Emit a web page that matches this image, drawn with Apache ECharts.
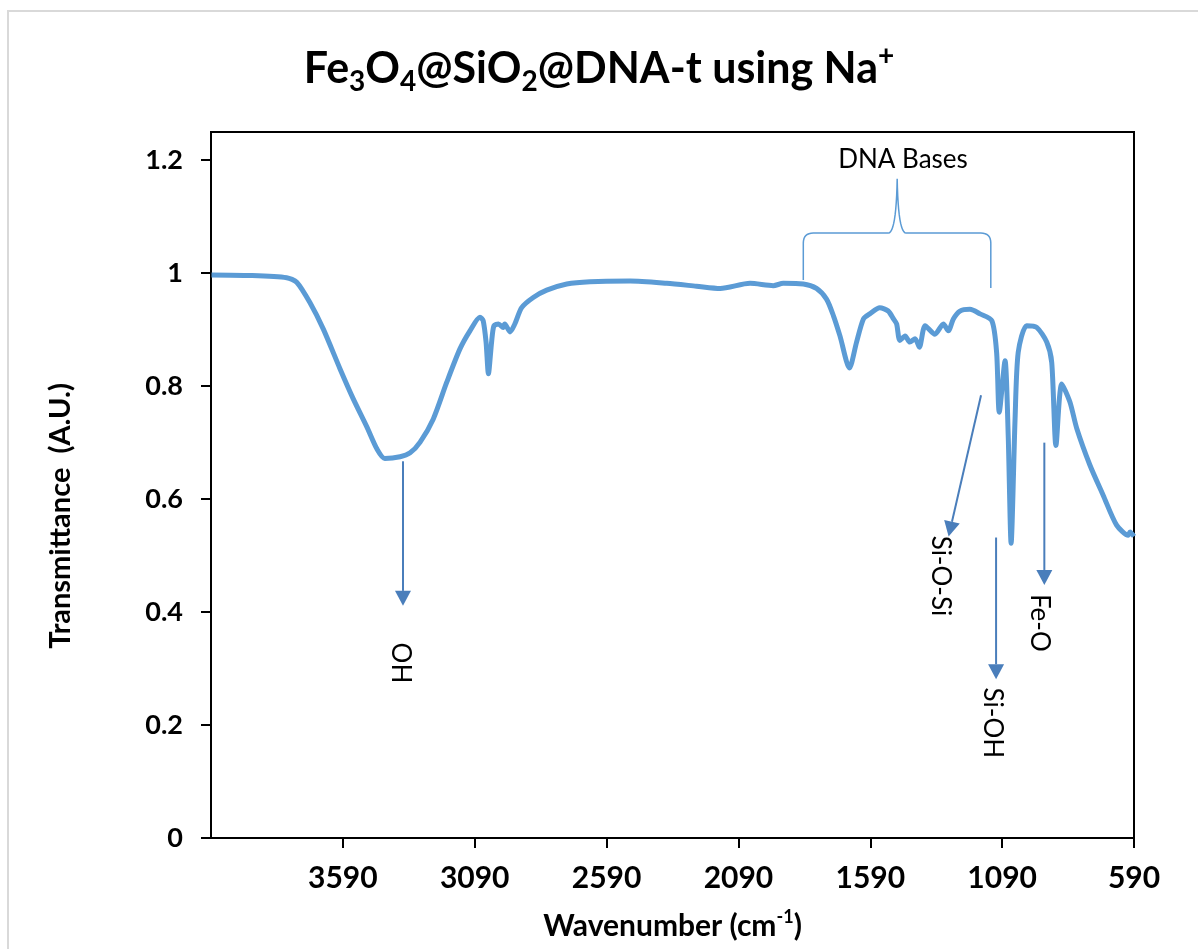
<!DOCTYPE html>
<html>
<head>
<meta charset="utf-8">
<script src="https://cdn.jsdelivr.net/npm/echarts@6/dist/echarts.min.js"></script>
<style>
html,body{margin:0;padding:0;background:#fff;}
#chart{width:1198px;height:949px;}
</style>
</head>
<body>
<div id="chart"></div>
<script>
// Wavenumber (cm-1) and transmittance values
const wavenumber = [4088,3942,3803,3765,3715,3664,3601,3551,3499,3461,3431,3373,3335,3297,3247,3196,3146,3108,3070,3058,3047,3038,3026,3017,3000,2982,2976,2956,2938,2912,2868,2817,2741,2653,2501,2362,2249,2159,2046,1958,1920,1844,1794,1756,1730,1705,1669,1642,1616,1592,1554,1522,1502,1490,1478,1458,1440,1420,1404,1382,1345,1313,1294,1275,1250,1212,1174,1129,1111,1101,1079,1067,1056,1041,1029,997,959,921,902,886,864,833,807,757,707,656,612,605,590];
const transmittance = [0.997,0.996,0.992,0.984,0.948,0.901,0.831,0.778,0.728,0.689,0.672,0.675,0.682,0.701,0.742,0.807,0.866,0.898,0.922,0.916,0.878,0.822,0.878,0.907,0.910,0.904,0.910,0.896,0.910,0.939,0.957,0.970,0.981,0.985,0.986,0.982,0.977,0.973,0.982,0.978,0.982,0.981,0.973,0.954,0.925,0.889,0.832,0.878,0.919,0.928,0.939,0.933,0.919,0.910,0.881,0.889,0.878,0.884,0.869,0.907,0.892,0.910,0.898,0.919,0.933,0.936,0.928,0.916,0.860,0.754,0.845,0.713,0.522,0.742,0.860,0.907,0.904,0.878,0.842,0.695,0.804,0.772,0.725,0.660,0.607,0.554,0.536,0.542,0.534];

// Annotation arrows (data coordinates: wavenumber, transmittance)
const arrowLabels = ['OH', 'Si-O-Si', 'Si-OH', 'Fe-O'];
const arrowFrom = [[3362, 0.667], [1170, 0.784], [1113, 0.532], [930, 0.700]];
const arrowTo = [[3362, 0.411], [1293, 0.534], [1113, 0.281], [930, 0.448]];
const arrowLabelAt = [[3373, 0.310], [1326, 0.464], [1128, 0.204], [947, 0.381]];
// DNA bases brace: left, centre, right wavenumbers; end levels, bar level, peak level
const braceWave = [1844, 1488, 1133];
const braceLevel = [0.988, 1.071, 1.167, 0.974];
const braceLabel = 'DNA Bases';
const braceLabelAt = [1466, 1.201];

const xTicks = [590, 1090, 1590, 2090, 2590, 3090, 3590];
const yTicks = [0, 0.2, 0.4, 0.6, 0.8, 1, 1.2];

const FONT = 'Lato';
const chart = echarts.init(document.getElementById('chart'), null, {renderer: 'canvas'});
const points = wavenumber.map((w, i) => [w, transmittance[i]]);

const option = {
  backgroundColor: '#fff',
  animation: false,
  title: {
    text: 'Fe{s|3}O{s|4}@SiO{s|2}@DNA-t using Na{p|+}',
    left: 'center',
    top: 37,
    textStyle: {
      fontFamily: FONT, fontSize: 43, fontWeight: 'bold', color: '#000', lineHeight: 54,
      rich: {
        s: {fontFamily: FONT, fontSize: 28, fontWeight: 'bold', color: '#000', lineHeight: 28, verticalAlign: 'bottom'},
        p: {fontFamily: FONT, fontSize: 28, fontWeight: 'bold', color: '#000', lineHeight: 28, verticalAlign: 'top'}
      }
    }
  },
  grid: {left: 211, right: 64, top: 132, bottom: 108, show: true, borderColor: '#000', borderWidth: 2, backgroundColor: 'transparent'},
  xAxis: {
    type: 'value', inverse: true, min: 590, max: 4090, interval: 500,
    name: 'Wavenumber (cm{p|-1})', nameLocation: 'middle', nameGap: 70,
    nameTextStyle: {fontFamily: FONT, fontSize: 30, fontWeight: 'bold', color: '#000', lineHeight: 36,
      rich: {p: {fontFamily: FONT, fontSize: 18, fontWeight: 'bold', color: '#000', lineHeight: 18, verticalAlign: 'top'}}},
    axisLine: {show: true, onZero: false, lineStyle: {color: '#000', width: 2}},
    axisTick: {show: true, inside: false, length: 10, lineStyle: {color: '#000', width: 2}},
    axisLabel: {fontFamily: FONT, fontSize: 30, fontWeight: 'bold', color: '#000', margin: 25, showMaxLabel: false,
      formatter: v => xTicks.includes(v) ? String(v) : ''},
    splitLine: {show: false}
  },
  yAxis: {
    type: 'value', min: 0, max: 1.25, interval: 0.2,
    name: 'Transmittance  (A.U.)', nameLocation: 'middle', nameGap: 136,
    nameTextStyle: {fontFamily: FONT, fontSize: 29, fontWeight: 'bold', color: '#000', padding: [0, 62, 0, 0]},
    axisLine: {show: true, lineStyle: {color: '#000', width: 2}},
    axisTick: {show: true, inside: false, length: 10, lineStyle: {color: '#000', width: 2}},
    axisLabel: {fontFamily: FONT, fontSize: 27, fontWeight: 'bold', color: '#000', margin: 28, showMaxLabel: false,
      formatter: v => {
        const t = yTicks.find(y => Math.abs(y - v) < 1e-6);
        return t === undefined ? '' : String(t);
      }},
    splitLine: {show: false}
  },
  series: [{
    type: 'line',
    data: points,
    showSymbol: false,
    smooth: 0.25,
    lineStyle: {color: '#5B9BD5', width: 5},
    itemStyle: {color: '#5B9BD5'},
    z: 3
  }]
};
chart.setOption(option);

function px(p) { return chart.convertToPixel({gridIndex: 0}, p); }

const graphics = [];
// outer chart frame
graphics.push({type: 'rect', shape: {x: 8, y: 11, width: 1220, height: 980}, style: {fill: 'none', stroke: '#d9d9d9', lineWidth: 2}, z: 0, silent: true});

const ARROW = '#4A7EBB';
arrowLabels.forEach((lab, i) => {
  const a = px(arrowFrom[i]);
  const b = px(arrowTo[i]);
  const dx = b[0] - a[0], dy = b[1] - a[1];
  const len = Math.sqrt(dx * dx + dy * dy);
  const ux = dx / len, uy = dy / len;
  const headL = 15, headW = 8;
  const base = [b[0] - ux * headL, b[1] - uy * headL];
  graphics.push({type: 'line', shape: {x1: a[0], y1: a[1], x2: base[0], y2: base[1]}, style: {stroke: ARROW, lineWidth: 2}, z: 10, silent: true});
  graphics.push({type: 'polygon', shape: {points: [b, [base[0] - uy * headW, base[1] + ux * headW], [base[0] + uy * headW, base[1] - ux * headW]]}, style: {fill: ARROW}, z: 10, silent: true});
  const lp = px(arrowLabelAt[i]);
  graphics.push({type: 'text', x: lp[0], y: lp[1], rotation: -Math.PI / 2,
    style: {text: lab, fontFamily: FONT, fontSize: 26, fill: '#000', align: 'center', verticalAlign: 'middle'}, z: 10, silent: true});
});

// brace
(function () {
  const L = px([braceWave[0], braceLevel[0]]);
  const C = px([braceWave[1], braceLevel[1]]);
  const P = px([braceWave[1], braceLevel[2]]);
  const R = px([braceWave[2], braceLevel[3]]);
  const yh = C[1];
  const pts = [];
  function quad(p0, c, p1, n) {
    for (let k = 0; k <= n; k++) {
      const t = k / n;
      pts.push([(1 - t) * (1 - t) * p0[0] + 2 * (1 - t) * t * c[0] + t * t * p1[0],
                (1 - t) * (1 - t) * p0[1] + 2 * (1 - t) * t * c[1] + t * t * p1[1]]);
    }
  }
  const r = 10;
  pts.push([L[0], L[1]]);
  quad([L[0], yh + r], [L[0], yh], [L[0] + r, yh], 8);
  quad([C[0] - 9, yh], [C[0] - 1, yh], [C[0], P[1]], 12);
  quad([C[0], P[1]], [C[0] + 1, yh], [C[0] + 9, yh], 12);
  quad([R[0] - r, yh], [R[0], yh], [R[0], yh + r], 8);
  pts.push([R[0], R[1]]);
  graphics.push({type: 'polyline', shape: {points: pts}, style: {stroke: '#5B9BD5', lineWidth: 1.5, fill: null}, z: 10, silent: true});
  const tp = px(braceLabelAt);
  graphics.push({type: 'text', x: tp[0], y: tp[1],
    style: {text: braceLabel, fontFamily: FONT, fontSize: 26, fill: '#000', align: 'center', verticalAlign: 'middle'}, z: 10, silent: true});
})();

chart.setOption({graphic: graphics});
</script>
</body>
</html>
